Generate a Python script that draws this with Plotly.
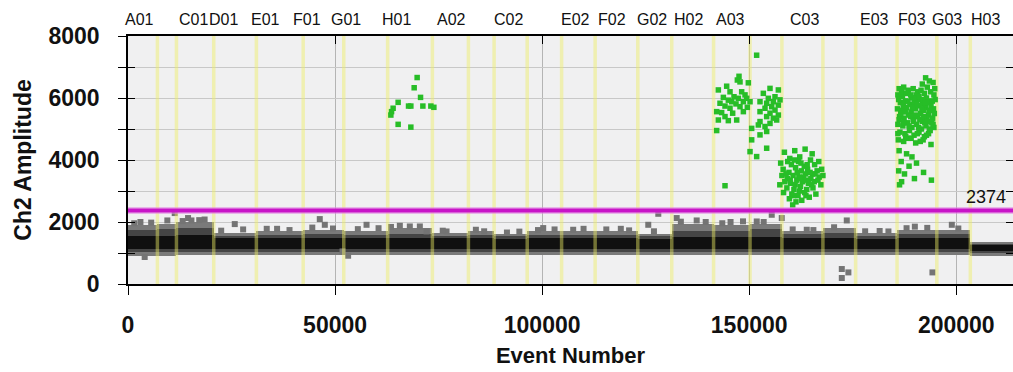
import plotly.graph_objects as go

# ---------------- data ----------------
WELLS = ["A01", "B01", "C01", "D01", "E01", "F01", "G01", "H01",
         "A02", "B02", "C02", "D02", "E02", "F02", "G02", "H02",
         "A03", "B03", "C03", "D03", "E03", "F03", "G03", "H03"]
WELL_EDGES = [0, 7100, 11700, 20700, 31000, 42300, 52100, 62700, 73500,
              82200, 88400, 96400, 104700, 112800, 123100, 131300, 141400,
              150200, 157900, 167800, 175700, 185700, 195300, 203400, 213700]

LABEL_WELLS = ["A01", "C01", "D01", "E01", "F01", "G01", "H01", "A02", "C02",
               "E02", "F02", "G02", "H02", "A03", "C03", "E03", "F03", "G03", "H03"]
LABEL_X = [2830, 15870, 23120, 33270, 43300, 52600, 64920, 78210, 91980,
           108170, 116870, 126530, 135230, 145380, 163260, 180170, 189350, 197680, 206980]

# negative-droplet band per well (amplitude)
BAND_TOP = [1900, 1950, 2000, 1650, 1700, 1750, 1700, 1800,
            1650, 1700, 1600, 1700, 1700, 1700, 1600, 1950,
            1900, 1950, 1700, 1800, 1650, 1750, 1750, 1350]
MID_TOP = [1750, 1780, 1800, 1560, 1580, 1600, 1580, 1620,
           1560, 1580, 1540, 1580, 1580, 1580, 1540, 1720,
           1720, 1760, 1600, 1640, 1560, 1620, 1620, 1300]
CORE_TOP = [1560, 1560, 1580, 1480, 1480, 1480, 1480, 1480,
            1480, 1480, 1460, 1480, 1480, 1480, 1460, 1520,
            1520, 1520, 1480, 1480, 1460, 1480, 1480, 1260]
CORE_BOT = [1120, 1120, 1120, 1120, 1120, 1120, 1120, 1120,
            1120, 1120, 1120, 1120, 1120, 1120, 1120, 1120,
            1120, 1120, 1120, 1120, 1120, 1120, 1120, 1060]
MID_BOT = [1020, 1020, 1020, 1030, 1030, 1030, 1030, 1030,
           1030, 1030, 1030, 1030, 1030, 1030, 1030, 1030,
           1030, 1030, 1030, 1030, 1030, 1030, 1030, 1000]
BAND_BOT = [900, 900, 920, 940, 940, 940, 940, 940,
            940, 940, 940, 940, 940, 940, 940, 940,
            940, 940, 940, 940, 940, 940, 940, 900]

# scattered negative droplets outside the band
GREY_X = [25780, 46310, 57600, 65640, 14500, 15320, 4030, 53150, 51800, 47520,
          11280, 68050, 70470, 72090, 76920, 100260, 128050, 132490, 137320,
          125630, 151820, 155440, 157860, 173560, 172360, 173950, 172360, 194250,
          198930, 163900, 183620, 3000, 9500, 18500, 36000, 84000, 110000, 119000,
          145500, 148500, 190000,
          1500, 5600, 13200, 17200, 22500, 27800, 33500, 39000, 44500, 49500,
          55500, 60500, 63500, 76000, 86000, 91500, 94500, 99000, 103000, 107500,
          115500, 121000, 127000, 133500, 139500, 143500, 153500, 160500, 165500,
          170500, 178000, 181500, 188000, 193000, 200500]
GREY_Y = [1933, 2094, 1910, 1878, 2127, 2050, 870, 912, 1050, 1910,
          2288, 1856, 1856, 1695, 1695, 1804, 2265, 2127, 2050,
          1910, 2017, 2233, 2127, 2050, 483, 374, 193, 374,
          1910, 1750, 1695, 2000, 2050, 2080, 1780, 1750, 1780, 1780,
          2000, 2020, 1850,
          1960, 1980, 2030, 2060, 1720, 1760, 1780, 1740, 1820, 1790,
          1770, 1800, 1840, 1720, 1700, 1660, 1690, 1740, 1760, 1750,
          1760, 1730, 1700, 2010, 2000, 1960, 2000, 1760, 1740,
          1830, 1700, 1710, 1800, 1810, 1790]

# positive droplets
H01_X = [69820, 69100, 70640, 65230, 68300, 67740, 71200, 73130, 73860, 64020,
         63640, 63470, 65230, 68300]
H01_Y = [6660, 6330, 6020, 5860, 5740, 5740, 5740, 5740, 5700, 5670,
         5560, 5450, 5150, 5060]

A03_X = [147540, 147140, 147780, 149790, 144560, 142550, 145370, 148180, 148990,
         146330, 143760, 147380, 149390, 144960, 145770, 148590, 150200, 142950,
         146810, 144160, 147780, 149550, 145370, 142150, 143350, 146010, 148590,
         144160, 146980, 144960, 142550, 142150, 144160, 151800]
A03_Y = [6700, 6580, 6520, 6490, 6380, 6260, 6200, 6200, 6100, 6040, 6020,
         5990, 5990, 5930, 5880, 5880, 5880, 5830, 5810, 5740, 5720, 5700,
         5670, 5560, 5530, 5510, 5560, 5400, 5290, 5270, 5290, 4950, 3170, 7380]

B03_X = [155025, 157040, 153415, 156230, 154620, 157440, 152610, 155830, 154220,
         157040, 155430, 153820, 156230, 152610, 155025, 157040, 154220, 155830,
         152610, 155025, 156635, 152210, 153820, 150600, 154220, 152610, 150600,
         154220, 151805, 150200]
B03_Y = [6310, 6260, 6150, 6040, 5990, 5940, 5880, 5880, 5830, 5770,
         5720, 5670, 5610, 5560, 5510, 5450, 5400, 5350, 5240, 5180,
         5290, 5130, 5080, 5020, 4920, 4810, 4650, 4380, 4110, 4270]

C03_X = [158500, 161000, 163500, 165200, 159800, 162200, 164800, 166800, 157600,
         160200, 161900, 163300, 165800, 167500, 158200, 159600, 161200, 162600,
         164100, 165300, 166400, 157900, 159200, 160600, 162000, 163600, 164900,
         166900, 158600, 160000, 161500, 162900, 164300, 165700, 167300, 159100,
         160800, 162400, 163900, 165400, 158300, 160300, 161800, 163400, 166100,
         159700, 161300, 162700, 160500, 164500, 157400, 167800,
         159300, 160900, 162500, 164000, 165900, 158900, 161600, 163100, 164700,
         166600, 159900, 161100, 162300, 163800, 165100, 160700, 162100, 163700]
C03_Y = [4250, 4300, 4350, 4200, 4050, 4100, 4000, 3950, 3900, 3850, 3950,
         3800, 3850, 3700, 3700, 3600, 3750, 3650, 3700, 3550, 3650, 3500,
         3400, 3500, 3450, 3550, 3400, 3450, 3300, 3250, 3350, 3300, 3250,
         3300, 3200, 3100, 3050, 3150, 3050, 3100, 2950, 2900, 2850, 2950,
         2900, 2750, 2650, 2700, 2550, 2800, 3200, 3500,
         3950, 4000, 3900, 3850, 3550, 3550, 3600, 3450, 3600,
         3350, 3350, 3200, 3400, 3350, 3200, 2850, 3000, 2850]

F03_X = [192600, 193500, 194400, 191800, 193000, 194800,
         186200, 187300, 188400, 189600, 190700, 191500, 192300, 193800, 194600,
         185900, 187000, 188100, 189200, 190300, 191100, 192800, 193600, 194900,
         186500, 187700, 188800, 189900, 190800, 191900, 192600, 193900, 194500,
         185800, 186900, 188000, 189100, 190200, 191400, 192200, 193300, 194700,
         186300, 187400, 188500, 189600, 190700, 191800, 192900, 194100,
         185900, 187100, 188200, 189300, 190400, 191600, 192700, 193700, 194600,
         186400, 187600, 188700, 189800, 191000, 192300, 193300,
         186000, 187300, 188400, 190200, 192000, 193900,
         186200, 188000, 189300, 186700, 188600, 190400, 186100, 187500, 189900,
         186800, 192100, 194000, 186300,
         186800, 187900, 189000, 190000, 191000, 192000, 193100, 194200,
         186100, 187200, 188300, 189400, 190500, 191700, 192500, 193500,
         186600, 187800, 189000, 190100, 191200, 192100, 193000, 194300,
         186200, 187300, 188600, 189700, 190900, 192400, 193500, 194400,
         185900, 187800, 189100, 190600, 191300, 192800]
F03_Y = [6650, 6550, 6500, 6450, 6350, 6300,
         6300, 6350, 6250, 6300, 6200, 6250, 6150, 6200, 6100,
         6100, 6050, 6150, 6000, 6100, 5950, 6000, 5900, 5950,
         5850, 5900, 5800, 5850, 5750, 5800, 5700, 5750, 5650,
         5650, 5600, 5700, 5550, 5650, 5500, 5600, 5450, 5500,
         5400, 5350, 5450, 5300, 5400, 5250, 5350, 5200,
         5150, 5100, 5200, 5050, 5150, 5000, 5100, 4950, 5050,
         4900, 4850, 4950, 4800, 4900, 4750, 4850,
         4650, 4600, 4700, 4550, 4650, 4500,
         4300, 4200, 4100, 3950, 3800, 3900, 3650, 3550, 3400,
         3300, 3600, 3350, 3200,
         6200, 6150, 6100, 6000, 6050, 5950, 5850, 5900,
         5950, 5750, 5900, 5700, 5800, 5650, 5850, 5600,
         5500, 5550, 5400, 5450, 5300, 5400, 5250, 5350,
         5300, 5200, 5100, 5250, 5050, 5200, 5000, 5150,
         4850, 4750, 4700, 4850, 4600, 4800]

THRESHOLD = 2374
X_MAX = 213700
Y_MAX = 8000
X_TICKS = [0, 50000, 100000, 150000, 200000]
X_TICK_TEXT = ["0", "50000", "100000", "150000", "200000"]
Y_TICKS = [0, 1000, 2000, 3000, 4000, 5000, 6000, 7000, 8000]
Y_TICK_TEXT = ["0", "", "2000", "", "4000", "", "6000", "", "8000"]

# ---------------- figure ----------------
FONT = "Liberation Sans, Arial, sans-serif"
centers = [(WELL_EDGES[i] + WELL_EDGES[i + 1]) / 2 for i in range(len(WELLS))]
widths = [WELL_EDGES[i + 1] - WELL_EDGES[i] for i in range(len(WELLS))]

fig = go.Figure()

# negative band: grey fringe, dark middle, black core
for lo, hi, col in [(BAND_BOT, BAND_TOP, "#7a7a7a"),
                    (MID_BOT, MID_TOP, "#454545"),
                    (CORE_BOT, CORE_TOP, "#101010")]:
    fig.add_trace(go.Bar(x=centers, width=widths, base=lo,
                         y=[t - b for t, b in zip(hi, lo)],
                         marker=dict(color=col, line=dict(width=0)),
                         hoverinfo="skip", showlegend=False))
fig.add_trace(go.Scatter(x=GREY_X, y=GREY_Y, mode="markers",
                         marker=dict(symbol="square", size=6, color="#747474",
                                     line=dict(width=0)),
                         hoverinfo="skip", showlegend=False))

# well boundary lines
bx, by = [], []
for e in WELL_EDGES[1:-1]:
    bx += [e, e, None]
    by += [0, Y_MAX, None]
fig.add_trace(go.Scatter(x=bx, y=by, mode="lines",
                         line=dict(color="rgba(238,238,100,0.45)", width=3.5),
                         hoverinfo="skip", showlegend=False))

# positive droplets
for xs, ys in [(H01_X, H01_Y), (A03_X, A03_Y), (B03_X, B03_Y),
               (C03_X, C03_Y), (F03_X, F03_Y)]:
    fig.add_trace(go.Scatter(x=xs, y=ys, mode="markers",
                             marker=dict(symbol="square", size=5.5, color="#27bd27",
                                         line=dict(width=0)),
                             hoverinfo="skip", showlegend=False))

# threshold
fig.add_trace(go.Scatter(x=[0, X_MAX], y=[THRESHOLD, THRESHOLD], mode="lines",
                         line=dict(color="rgba(225,130,225,0.55)", width=7),
                         hoverinfo="skip", showlegend=False))
fig.add_trace(go.Scatter(x=[0, X_MAX], y=[THRESHOLD, THRESHOLD], mode="lines",
                         line=dict(color="#c814c8", width=4),
                         hoverinfo="skip", showlegend=False))

annotations = []
for name, xv in zip(LABEL_WELLS, LABEL_X):
    annotations.append(dict(x=xv, y=1, xref="x", yref="paper", text=name,
                            showarrow=False, xanchor="center", yanchor="middle",
                            yshift=17, font=dict(family=FONT, size=16, color="#111")))
annotations.append(dict(x=X_MAX, y=THRESHOLD, xref="x", yref="y", text=str(THRESHOLD),
                        showarrow=False, xanchor="right", yanchor="bottom",
                        xshift=-5, yshift=1, font=dict(family=FONT, size=18, color="#111")))

fig.update_layout(
    width=1013, height=372,
    margin=dict(l=128, r=0, t=36, b=88),
    paper_bgcolor="white", plot_bgcolor="#f0f0f1",
    barmode="overlay", bargap=0,
    font=dict(family=FONT, color="#111"),
    annotations=annotations,
    xaxis=dict(range=[0, X_MAX], tickvals=X_TICKS, ticktext=X_TICK_TEXT,
               ticks="outside", ticklen=9,
               tickcolor="black", showline=True, linecolor="black", linewidth=1.5,
               showgrid=True, gridcolor="#b4b4b4", gridwidth=1, zeroline=False,
               tickfont=dict(family=FONT, size=23, weight="bold", color="#111"),
               ticklabelstandoff=11,
               title=dict(text="Event Number", standoff=10,
                          font=dict(family=FONT, size=22, weight="bold", color="#111"))),
    xaxis2=dict(range=[0, X_MAX], overlaying="x", side="top", tickvals=X_TICKS,
                ticks="inside", ticklen=8, tickcolor="black", showticklabels=False,
                showline=True, linecolor="black", linewidth=1.5, showgrid=False,
                zeroline=False),
    yaxis=dict(range=[0, Y_MAX], tickvals=Y_TICKS, ticktext=Y_TICK_TEXT,
               ticks="outside", ticklen=8, tickcolor="black", showline=True,
               linecolor="black", linewidth=1.5, showgrid=True, gridcolor="#c8c8c8",
               gridwidth=1, zeroline=False, ticklabelstandoff=14,
               tickfont=dict(family=FONT, size=23, weight="bold", color="#111"),
               title=dict(text="Ch2 Amplitude", standoff=10,
                          font=dict(family=FONT, size=23, weight="bold", color="#111"))),
    yaxis2=dict(range=[0, Y_MAX], overlaying="y", side="left", tickvals=Y_TICKS,
                ticks="inside", ticklen=7, tickcolor="black", showticklabels=False,
                showline=False, showgrid=False, zeroline=False),
    yaxis3=dict(range=[0, Y_MAX], overlaying="y", side="right", tickvals=Y_TICKS,
                ticks="inside", ticklen=7, tickcolor="black", showticklabels=False,
                showline=True, linecolor="black", showgrid=False, zeroline=False),
)
fig.add_trace(go.Scatter(x=[None], y=[None], xaxis="x2", yaxis="y2",
                         hoverinfo="skip", showlegend=False))
fig.add_trace(go.Scatter(x=[None], y=[None], xaxis="x", yaxis="y3",
                         hoverinfo="skip", showlegend=False))

fig.write_html("out.html")
